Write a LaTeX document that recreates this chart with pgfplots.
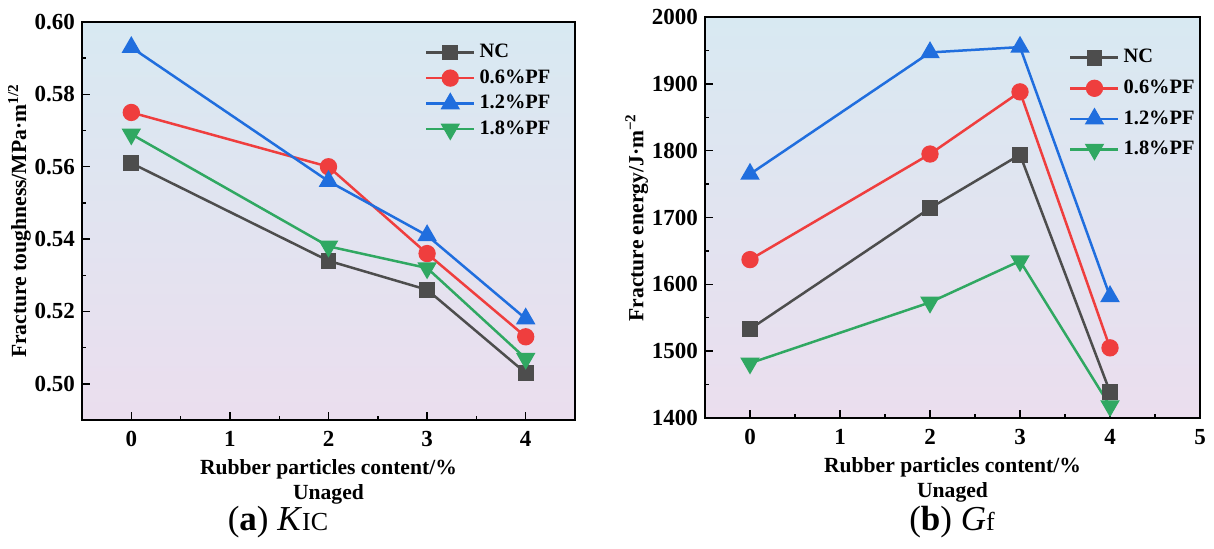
\documentclass[border=0pt]{standalone}
\usepackage{pgfplots}
\pgfplotsset{compat=1.18}
\usepackage{fontspec}
\setmainfont{Liberation Serif}
\definecolor{cNC}{RGB}{77,77,77}
\definecolor{cA}{RGB}{239,62,62}
\definecolor{cB}{RGB}{32,110,222}
\definecolor{cC}{RGB}{48,168,98}
\definecolor{bgTop}{RGB}{216,233,242}
\definecolor{bgBot}{RGB}{235,222,238}
\pgfplotsset{
  common/.style={
    scale only axis,
    axis background/.style={top color=bgTop,bottom color=bgBot},
    axis line style={black,line width=0.9pt},
    tick align=inside,
    tick pos=left,
    major tick length=4pt,
    minor tick length=2pt,
    tick style={black,line width=0.7pt},
    minor x tick num=1,
    minor y tick num=1,
    /pgf/number format/assume math mode=true,
    /pgf/number format/1000 sep={},
    tick label style={font=\fontsize{11.5}{13}\selectfont\bfseries},
    xticklabel style={yshift=-2pt},
    label style={font=\fontsize{10.8}{12.5}\selectfont\bfseries},
    xlabel style={align=center,yshift=0.5pt},
    ylabel style={yshift=-5pt},
    legend style={draw=none,fill=none,font=\fontsize{10.2}{12}\selectfont\bfseries,
      anchor=north west, inner xsep=0pt, inner ysep=0pt,
      nodes={inner xsep=2pt}},
    legend cell align=left,
    legend image code/.code={\draw[mark repeat=2,mark phase=2] plot coordinates {(0pt,0pt) (12pt,0pt) (24pt,0pt)};},
    every axis plot/.append style={line width=1.25pt},
    xlabel={Rubber particles content/\%\\Unaged},
  },
}
\begin{document}
\begin{tikzpicture}
\path[use as bounding box] (0,0) rectangle (607pt,274pt);
\begin{axis}[common,
  at={(41pt,64pt)}, anchor=south west,
  width=246.5pt, height=199pt,
  xmin=-0.5, xmax=4.5, ymin=0.49, ymax=0.60,
  xtick={0,1,2,3,4},
  ytick={0.50,0.52,0.54,0.56,0.58,0.60},
  yticklabel style={/pgf/number format/.cd,fixed,fixed zerofill,precision=2},
  ylabel={Fracture toughness/MPa·m\textsuperscript{1/2}},
  legend style={at={(0.695,0.955)}, row sep=0.5pt},
]
\addplot[cNC, mark=square*, mark size=3.3pt] coordinates {(0,0.561) (2,0.534) (3,0.526) (4,0.503)};
\addplot[cA, mark=*, mark size=3.7pt] coordinates {(0,0.575) (2,0.560) (3,0.536) (4,0.513)};
\addplot[cB, mark=triangle*, mark size=4.4pt] coordinates {(0,0.593) (2,0.556) (3,0.541) (4,0.518)};
\addplot[cC, mark=triangle*, mark options={rotate=180}, mark size=4.4pt] coordinates {(0,0.569) (2,0.538) (3,0.532) (4,0.507)};
\legend{NC,0.6\%PF,1.2\%PF,1.8\%PF}
\end{axis}
\node[font=\fontsize{17.5}{18}\selectfont] at (139pt,13pt) {(\textbf{a}) \textit{K}{\fontsize{13}{13}\selectfont IC}};
\begin{axis}[common,
  at={(352.5pt,65pt)}, anchor=south west,
  width=247.5pt, height=200.5pt,
  xmin=-0.5, xmax=5, ymin=1400, ymax=2000,
  xtick={0,1,2,3,4,5},
  ytick={1400,1500,1600,1700,1800,1900,2000},
  ylabel={Fracture energy/J·m\textsuperscript{−2}},
  legend style={at={(0.735,0.93)}, row sep=3pt},
]
\addplot[cNC, mark=square*, mark size=3.3pt] coordinates {(0,1533) (2,1714) (3,1794) (4,1439)};
\addplot[cA, mark=*, mark size=3.7pt] coordinates {(0,1637) (2,1795) (3,1888) (4,1505)};
\addplot[cB, mark=triangle*, mark size=4.4pt] coordinates {(0,1765) (2,1947) (3,1955) (4,1582)};
\addplot[cC, mark=triangle*, mark options={rotate=180}, mark size=4.4pt] coordinates {(0,1482) (2,1573) (3,1635) (4,1418)};
\legend{NC,0.6\%PF,1.2\%PF,1.8\%PF}
\end{axis}
\node[font=\fontsize{17.5}{18}\selectfont] at (476pt,13pt) {(\textbf{b}) \textit{G}{\fontsize{13}{13}\selectfont f}};
\end{tikzpicture}
\end{document}
